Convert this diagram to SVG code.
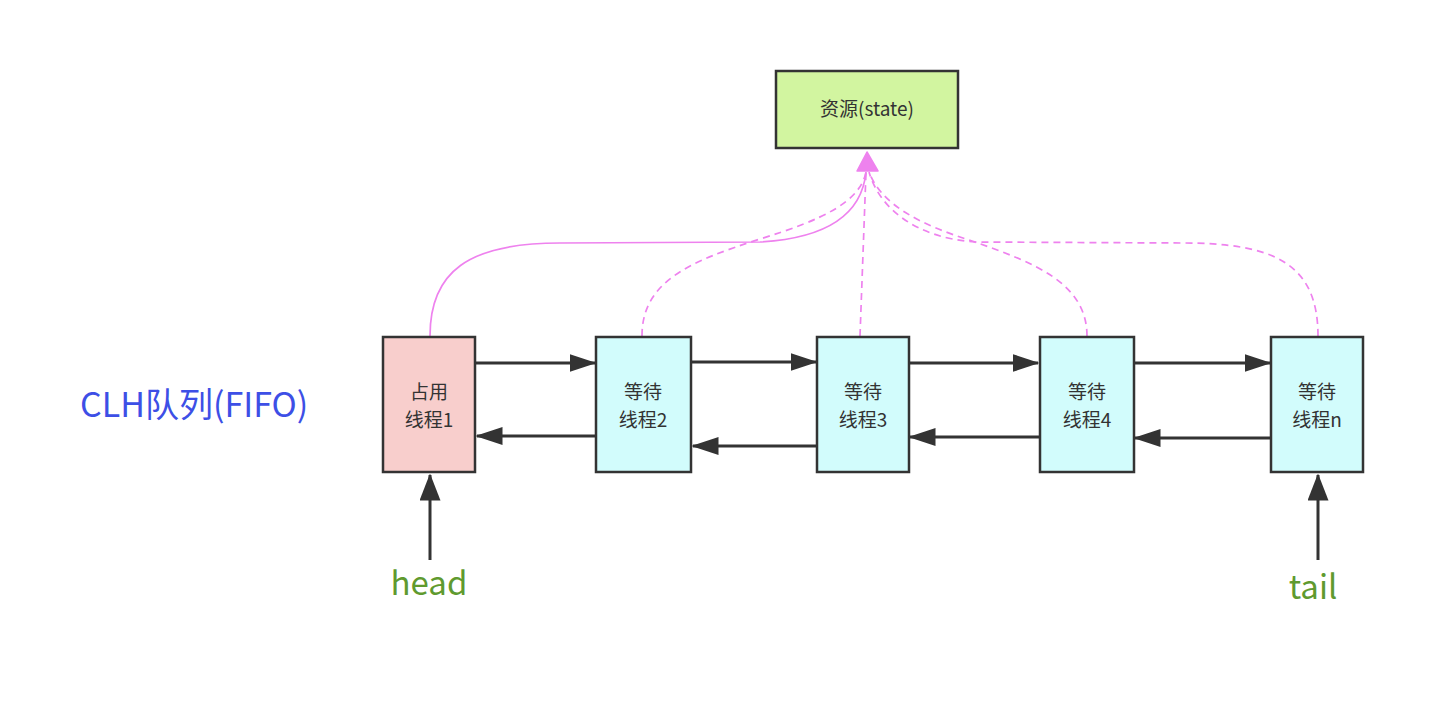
<svg xmlns="http://www.w3.org/2000/svg" width="1438" height="712" viewBox="0 0 1438 712">
<style>
.box{stroke:#333;stroke-width:2.5}
.hold{fill:#f8cecc}
.wait{fill:#d2fcfc}
.res{fill:#d2f5a0}
.t{font-family:"Noto Sans CJK SC","Noto Sans",sans-serif;font-size:19px;fill:#333;text-anchor:middle}
.lk{stroke:#333;stroke-width:3;fill:none;marker-end:url(#ah)}
.ptr{stroke:#333;stroke-width:3;fill:none;marker-end:url(#ahb)}
.pk{stroke:#ee82ee;stroke-width:1.7;fill:none}
.dash{stroke-dasharray:7 5}
.lbl{font-family:"Noto Sans CJK SC","Noto Sans",sans-serif;font-size:33px;fill:#5f9a2f;text-anchor:middle}
</style>
<defs>
<marker id="ah" markerWidth="9" markerHeight="6" refX="8.5" refY="3" orient="auto" markerUnits="strokeWidth" viewBox="0 0 9 6">
<path d="M0,0 L9,3 L0,6 Z" fill="#333"/>
</marker>
<marker id="ahb" markerWidth="9" markerHeight="7" refX="8.5" refY="3.5" orient="auto" markerUnits="strokeWidth" viewBox="0 0 9 7">
<path d="M0,0 L9,3.5 L0,7 Z" fill="#333"/>
</marker>
</defs>
<rect width="1438" height="712" fill="#fff"/>

<g id="connectors">
<path class="pk" d="M430,336 C430,272 468,243 560,243 L760,242 C830,238 862,212 866,172"/>
<path class="pk dash" d="M642,336 C642,282 688,262 760,239 C822,220 860,202 866,172"/>
<path class="pk dash" d="M860,336 L866,172"/>
<path class="pk dash" d="M1087,336 C1087,282 1032,262 972,241 C922,225 882,206 869,172"/>
<path class="pk dash" d="M1318,336 C1318,262 1272,243 1182,243 L975,242 C918,238 880,210 869,172"/>
<path d="M867,152 L878,171 L857,171 Z" fill="#ee82ee" stroke="#ee82ee" stroke-width="1.5" stroke-linejoin="round"/>

<line class="lk" x1="476" y1="363" x2="595" y2="363"/>
<line class="lk" x1="596" y1="436" x2="477" y2="436"/>
<line class="lk" x1="692" y1="362" x2="816" y2="362"/>
<line class="lk" x1="817" y1="446" x2="693" y2="446"/>
<line class="lk" x1="909" y1="363" x2="1038" y2="363"/>
<line class="lk" x1="1040" y1="437" x2="910" y2="437"/>
<line class="lk" x1="1134" y1="363" x2="1270" y2="363"/>
<line class="lk" x1="1271" y1="438" x2="1135" y2="438"/>

<line class="ptr" x1="430" y1="560" x2="430" y2="475"/>
<line class="ptr" x1="1318" y1="560" x2="1318" y2="475"/>
</g>

<g id="resource">
<rect class="box res" x="776" y="71" width="182" height="77"/>
<text class="t" x="867" y="116" font-size="20.5">资源(state)</text>
</g>

<g id="node1">
<rect class="box hold" x="383" y="337" width="92" height="135"/>
<text class="t" x="429" y="399">占用</text>
<text class="t" x="429" y="427">线程1</text>
</g>
<g id="node2">
<rect class="box wait" x="596" y="337" width="95" height="135"/>
<text class="t" x="643" y="399">等待</text>
<text class="t" x="643" y="427">线程2</text>
</g>
<g id="node3">
<rect class="box wait" x="817" y="337" width="92" height="135"/>
<text class="t" x="863" y="399">等待</text>
<text class="t" x="863" y="427">线程3</text>
</g>
<g id="node4">
<rect class="box wait" x="1040" y="337" width="94" height="135"/>
<text class="t" x="1087" y="399">等待</text>
<text class="t" x="1087" y="427">线程4</text>
</g>
<g id="node5">
<rect class="box wait" x="1271" y="337" width="92" height="135"/>
<text class="t" x="1317" y="399">等待</text>
<text class="t" x="1317" y="427">线程n</text>
</g>

<g id="title">
<text x="80" y="417" font-family="'Noto Sans CJK SC','Noto Sans',sans-serif" font-size="34" fill="#3d4fe6">CLH队列(FIFO)</text>
</g>
<g id="head-label"><text class="lbl" x="429" y="595">head</text></g>
<g id="tail-label"><text class="lbl" x="1313" y="599">tail</text></g>
</svg>
